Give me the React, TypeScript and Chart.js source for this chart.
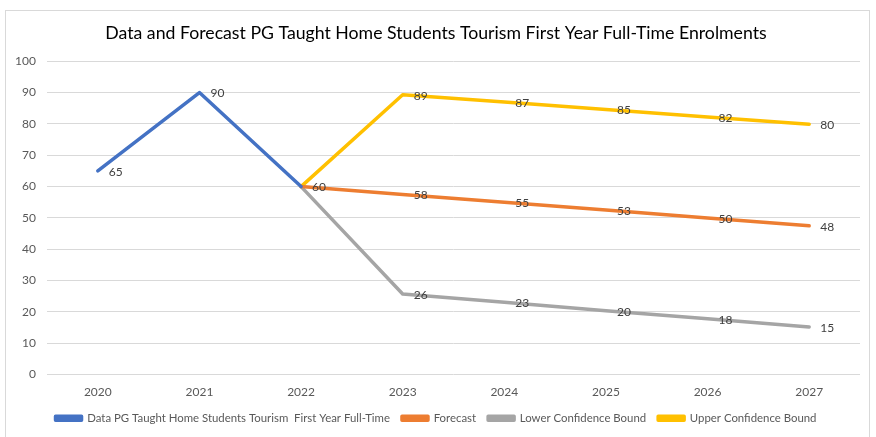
import React, { useEffect, useRef } from "react";
import { Chart, registerables } from "chart.js";

Chart.register(...registerables);

const TITLE = "Data and Forecast PG Taught Home Students Tourism First Year Full-Time Enrolments";
const years = ["2020", "2021", "2022", "2023", "2024", "2025", "2026", "2027"];
const dataSeries = [65, 90, 60, null, null, null, null, null];
const forecast = [null, null, 60, 57.5, 55, 52.5, 50, 47.5];
const lowerBound = [null, null, 60, 25.7, 23.1, 20.4, 17.8, 15.2];
const upperBound = [null, null, 60, 89.3, 87, 84.6, 82.2, 79.9];
const seriesNames = [
  "Data PG Taught Home Students Tourism  First Year Full-Time",
  "Forecast",
  "Lower Confidence Bound",
  "Upper Confidence Bound",
];
const colors = ["#4472C4", "#ED7D31", "#A5A5A5", "#FFC000"];
// first index at which each series shows a data label
const labelFrom = [0, 3, 3, 3];

const FONT = "Lato, 'Liberation Sans', sans-serif";

const labelPlugin = {
  id: "pointLabels",
  afterDatasetsDraw(chart: any) {
    const ctx = chart.ctx;
    ctx.save();
    ctx.font = `12px ${FONT}`;
    ctx.fillStyle = "#404040";
    ctx.textAlign = "left";
    ctx.textBaseline = "middle";
    chart.data.datasets.forEach((ds: any, di: number) => {
      const meta = chart.getDatasetMeta(di);
      meta.data.forEach((pt: any, i: number) => {
        const v = ds.data[i];
        if (v === null || v === undefined || i < labelFrom[di]) return;
        ctx.fillText(String(Math.round(v)), pt.x + 11, pt.y + 1);
      });
    });
    ctx.restore();
  },
};

export default function App() {
  const ref = useRef<HTMLCanvasElement>(null);
  useEffect(() => {
    if (!ref.current) return;
    const all = [dataSeries, forecast, lowerBound, upperBound];
    const chart = new Chart(ref.current, {
      type: "line",
      data: {
        labels: years,
        datasets: all.map((d, i) => ({
          label: seriesNames[i],
          data: d,
          borderColor: colors[i],
          backgroundColor: colors[i],
          borderWidth: 3.5,
          borderCapStyle: "round",
          borderJoinStyle: "round",
          pointRadius: 0,
          pointHoverRadius: 0,
          tension: 0,
          spanGaps: false,
          fill: false,
        })),
      },
      options: {
        animation: false,
        responsive: true,
        maintainAspectRatio: false,
        layout: { padding: { left: 6, right: 9, top: 0, bottom: 4 } },
        plugins: {
          title: {
            display: true,
            text: TITLE,
            color: "#000000",
            font: { family: FONT, size: 17.7, weight: "normal" },
            padding: { top: 12, bottom: 17 },
          },
          legend: {
            position: "bottom",
            labels: {
              color: "#595959",
              font: { family: FONT, size: 11.4 },
              boxWidth: 26,
              boxHeight: 4,
              padding: 12,
            },
          },
          tooltip: { enabled: false },
        },
        scales: {
          x: {
            offset: true,
            grid: { display: false, drawTicks: false },
            border: { display: false },
            ticks: { color: "#595959", font: { family: FONT, size: 12 }, padding: 10 },
            afterFit: (scale: any) => {
              scale.height = 26;
            },
          },
          y: {
            min: 0,
            max: 100,
            ticks: { stepSize: 10, color: "#595959", font: { family: FONT, size: 12 }, padding: 11 },
            grid: { color: "#D9D9D9", drawTicks: false },
            border: { display: false },
            afterFit: (scale: any) => {
              scale.width = 35;
            },
          },
        },
      },
      plugins: [labelPlugin],
    } as any);
    return () => chart.destroy();
  }, []);

  return (
    <div
      style={{
        position: "fixed",
        left: 5,
        top: 10,
        width: 863,
        height: 427,
        border: "1px solid #D9D9D9",
        background: "#FFFFFF",
      }}
    >
      <canvas ref={ref} />
    </div>
  );
}
